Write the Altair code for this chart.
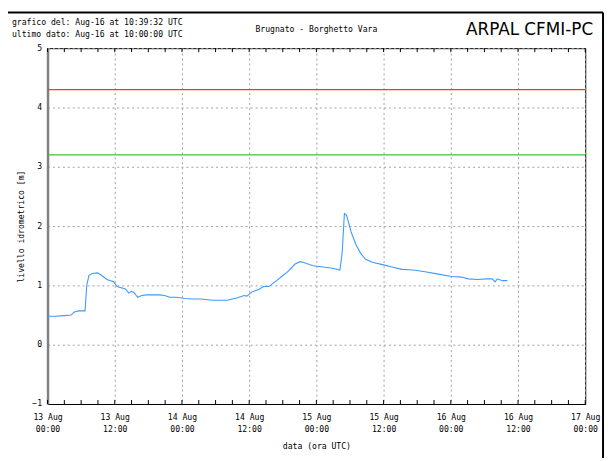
import altair as alt
import pandas as pd

# ---- data (hours since 13 Aug 00:00 UTC, level in m) ----
hours = [0.0, 1.5, 3.0, 4.2, 4.8, 5.5, 6.7, 7.0, 7.4, 8.0, 8.9, 9.5, 10.6, 11.8, 12.4,
         13.9, 14.5, 15.0, 15.4, 16.1, 16.8, 17.7, 18.9, 20.0, 20.9, 21.8, 23.0, 24.5,
         26.0, 27.4, 29.5, 31.0, 32.1, 33.0, 33.9, 35.1, 35.6, 36.5, 37.7, 38.6, 39.5,
         40.6, 41.8, 43.0, 44.2, 45.1, 45.6, 47.4, 49.2, 50.9, 52.2, 52.6, 53.0, 53.4,
         54.2, 55.1, 55.9, 56.8, 58.0, 59.8, 61.5, 63.3, 65.3, 67.4, 69.8, 72.1, 73.9,
         75.1, 76.8, 78.3, 79.4, 79.9, 80.3, 81.2, 82.1]
level = [0.48, 0.48, 0.49, 0.50, 0.55, 0.57, 0.57, 1.00, 1.17, 1.20, 1.21, 1.18, 1.10, 1.06, 0.98,
         0.94, 0.87, 0.90, 0.88, 0.80, 0.83, 0.84, 0.84, 0.84, 0.83, 0.80, 0.80, 0.78,
         0.77, 0.77, 0.75, 0.75, 0.75, 0.77, 0.79, 0.83, 0.82, 0.89, 0.93, 0.98, 0.98,
         1.06, 1.15, 1.24, 1.36, 1.40, 1.39, 1.33, 1.31, 1.29, 1.26, 1.55, 2.21, 2.18,
         1.90, 1.68, 1.54, 1.44, 1.39, 1.35, 1.31, 1.27, 1.26, 1.23, 1.19, 1.15, 1.14,
         1.11, 1.10, 1.11, 1.11, 1.06, 1.11, 1.08, 1.08]

alert_level = [4.3]
warning_level = [3.2]
alert_color = "#f53535"
warning_color = "#35c835"

major_ticks = [0, 12, 24, 36, 48, 60, 72, 84, 96]
minor_ticks = list(range(0, 97, 3))
y_ticks = [-1, 0, 1, 2, 3, 4, 5]

line1 = "grafico del: Aug-16 at 10:39:32 UTC"
line2 = "ultimo dato: Aug-16 at 10:00:00 UTC"
station = "Brugnato - Borghetto Vara"
brand = "ARPAL CFMI-PC"
x_title = "data (ora UTC)"
y_title = "livello idrometrico [m]"

W, H = 544, 360
FONT = "DejaVu Sans Mono"
FS = 8.2

df = pd.DataFrame({"h": hours, "v": level})
alert_df = pd.DataFrame({"v": alert_level})
warn_df = pd.DataFrame({"v": warning_level})
ticks_df = pd.DataFrame({"h": minor_ticks})
one = pd.DataFrame({"a": [0]})

xscale = alt.Scale(domain=[0, 96], nice=False, zero=False)
yscale = alt.Scale(domain=[-1, 5], nice=False, zero=False)

label_expr = ("[format(13 + floor(datum.value / 24), 'd') + ' Aug', "
              "(datum.value % 24 == 0 ? '00:00' : '12:00')]")

xaxis = alt.Axis(values=major_ticks, labelExpr=label_expr, title=x_title,
                 grid=True, gridDash=[2, 3], gridColor="#a0a0a0", ticks=False, tickSize=0,
                 labelFont=FONT, labelFontSize=FS, labelLineHeight=12, labelPadding=10,
                 labelColor="black", titleFont=FONT, titleFontSize=FS, titleFontWeight="normal",
                 titleColor="black", titlePadding=10, domainColor="black", domainWidth=1,
                 labelFlush=False, labelOverlap=False)
yaxis = alt.Axis(values=y_ticks, format="d", title=y_title, grid=True, gridDash=[2, 3], gridColor="#a0a0a0",
                 ticks=False, tickSize=0, labelFont=FONT, labelFontSize=FS, labelPadding=6,
                 labelColor="black", titleFont=FONT, titleFontSize=FS, titleFontWeight="normal",
                 titleColor="black", titlePadding=6, domainColor="#808080", domainWidth=2.5,
                 labelFlush=False, labelOverlap=False)

line = alt.Chart(df).mark_line(color="#3d9bff", strokeWidth=1.1).encode(
    x=alt.X("h:Q", scale=xscale, axis=xaxis),
    y=alt.Y("v:Q", scale=yscale, axis=yaxis),
)

alert_rule = alt.Chart(alert_df).mark_rule(color=alert_color, strokeWidth=1.2).encode(
    y=alt.Y("v:Q", scale=yscale))
warn_rule = alt.Chart(warn_df).mark_rule(color=warning_color, strokeWidth=1.2).encode(
    y=alt.Y("v:Q", scale=yscale))

bottom_ticks = alt.Chart(ticks_df).mark_rule(color="black", strokeWidth=1).encode(
    x=alt.X("h:Q", scale=xscale), y=alt.value(H), y2=alt.value(H - 4))
top_ticks = alt.Chart(ticks_df).mark_rule(color="black", strokeWidth=1).encode(
    x=alt.X("h:Q", scale=xscale), y=alt.value(0), y2=alt.value(4))

frame_top = alt.Chart(one).mark_rule(color="black", strokeWidth=2).encode(
    x=alt.value(-48), x2=alt.value(562), y=alt.value(-36))
frame_right = alt.Chart(one).mark_rule(color="black", strokeWidth=2).encode(
    x=alt.value(562), y=alt.value(-36), y2=alt.value(420))

t1 = alt.Chart(one).mark_text(font=FONT, fontSize=FS, align="left", baseline="middle", color="black").encode(
    x=alt.value(-36), y=alt.value(-25), text=alt.value(line1))
t2 = alt.Chart(one).mark_text(font=FONT, fontSize=FS, align="left", baseline="middle", color="black").encode(
    x=alt.value(-36), y=alt.value(-13), text=alt.value(line2))
t3 = alt.Chart(one).mark_text(font=FONT, fontSize=FS, align="center", baseline="middle", color="black").encode(
    x=alt.value(272), y=alt.value(-18), text=alt.value(station))
t4 = alt.Chart(one).mark_text(font="DejaVu Sans", fontSize=17, align="right", baseline="middle", color="black").encode(
    x=alt.value(552), y=alt.value(-18), text=alt.value(brand))

chart = alt.layer(alert_rule, warn_rule, line, bottom_ticks, top_ticks, frame_top, frame_right,
                  t1, t2, t3, t4).properties(
    width=W, height=H,
    autosize=alt.AutoSizeParams(type="none"),
    padding={"left": 40, "top": 38, "right": 20, "bottom": 52},
    background="white",
).configure_view(stroke="black", strokeWidth=1)

chart.save("out.html", embed_options={"renderer": "svg", "actions": False})
